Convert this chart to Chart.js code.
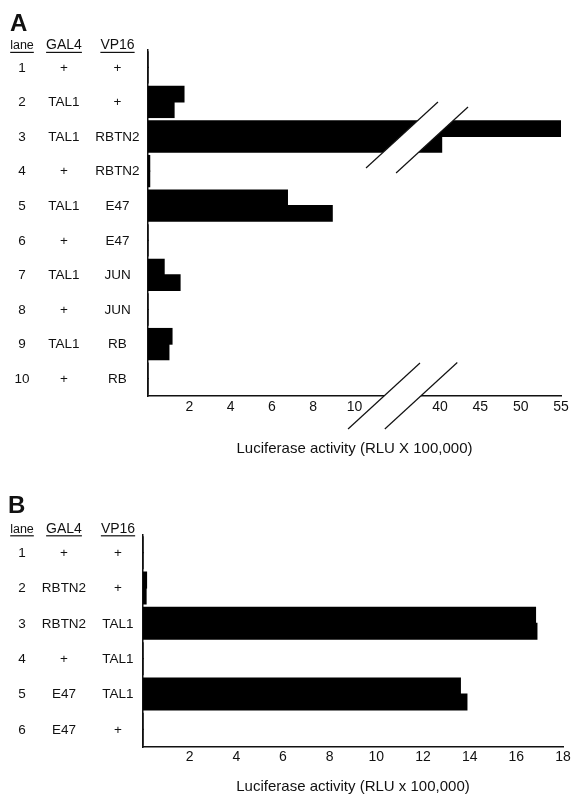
<!DOCTYPE html>
<html><head><meta charset="utf-8">
<script src="https://cdn.jsdelivr.net/npm/chart.js@4.4.1/dist/chart.umd.min.js"></script>
<style>
html,body{margin:0;padding:0;background:#fff;width:574px;height:796px;overflow:hidden}
.wrap{position:absolute;left:0;width:574px}
canvas{display:block}
</style></head><body>
<div class="wrap" style="top:0;height:478px"><canvas id="a" width="574" height="478"></canvas></div>
<div class="wrap" style="top:478px;height:318px"><canvas id="b" width="574" height="318"></canvas></div>
<script>
// ---------- Panel A data ----------
const lanesA = ['1','2','3','4','5','6','7','8','9','10'];
const gal4A  = ['+','TAL1','TAL1','+','TAL1','+','TAL1','+','TAL1','+'];
const vp16A  = ['+','+','RBTN2','RBTN2','E47','E47','JUN','JUN','RB','RB'];
const rep1A  = [0, 1.74, 55, 0.08, 6.75, 0, 0.78, 0, 1.16, 0];
const rep2A  = [0, 1.26, 40.2, 0.08, 8.92, 0, 1.55, 0, 1.01, 0];
const tickValsA = [2, 4, 6, 8, 10, 40, 45, 50, 55];
const titleA = 'Luciferase activity (RLU X 100,000)';

// ---------- Panel B data ----------
const lanesB = ['1','2','3','4','5','6'];
const gal4B  = ['+','RBTN2','RBTN2','+','E47','E47'];
const vp16B  = ['+','+','TAL1','TAL1','TAL1','+'];
const rep1B  = [0, 0.15, 16.82, 0, 13.6, 0];
const rep2B  = [0, 0.13, 16.88, 0, 13.88, 0];
const tickValsB = [2, 4, 6, 8, 10, 12, 14, 16, 18];
const titleB = 'Luciferase activity (RLU x 100,000)';

const headers = ['lane', 'GAL4', 'VP16'];

const FONT = '"Liberation Sans", Arial, Helvetica, sans-serif';
const INK = '#111';

// broken axis for panel A: 0-10 linear, then 40-55 compressed
function toDisplayA(v) { return v <= 10 ? v : 14.14 + (v - 40) * 0.3907; }

const tablePlugin = {
  id: 'table',
  afterDraw(chart, args, o) {
    const ctx = chart.ctx, y = chart.scales.y;
    ctx.save();
    ctx.fillStyle = INK;
    ctx.font = `bold 24px ${FONT}`;
    ctx.textAlign = 'left'; ctx.textBaseline = 'alphabetic';
    ctx.fillText(o.letter, o.letterX, o.letterY);
    headers.forEach((h, i) => {
      ctx.font = `${i === 0 ? 12.5 : 14}px ${FONT}`;
      ctx.textAlign = 'center';
      ctx.fillText(h, o.cols[i], o.headY);
      const w = ctx.measureText(h).width;
      ctx.fillRect(o.cols[i] - w / 2, o.headY + 2.5, w, 1.2);
    });
    ctx.font = `13.5px ${FONT}`;
    ctx.textBaseline = 'middle';
    o.rows.forEach((col, ci) => {
      col.forEach((t, ri) => ctx.fillText(t, o.cols[ci], y.getPixelForValue(ri) + 0.5));
    });
    ctx.restore();
  }
};

const breakPlugin = {
  id: 'breaks',
  afterDatasetsDraw(chart, args, o) {
    if (!o.marks) return;
    const {ctx, scales: {x, y}, chartArea} = chart;
    const k = 1.09;
    ctx.save();
    o.marks.forEach(m => {
      const yc = m.row === 'axis' ? chartArea.bottom : y.getPixelForValue(m.row);
      const x1 = x.getPixelForValue(m.v1), x2 = x.getPixelForValue(m.v2);
      const L1 = [[x1 + m.up1 * k, yc - m.up1], [x1 - m.dn1 * k, yc + m.dn1]];
      const L2 = [[x2 + m.up2 * k, yc - m.up2], [x2 - m.dn2 * k, yc + m.dn2]];
      ctx.fillStyle = '#fff';
      ctx.beginPath();
      ctx.moveTo(L1[0][0], L1[0][1]); ctx.lineTo(L2[0][0], L2[0][1]);
      ctx.lineTo(L2[1][0], L2[1][1]); ctx.lineTo(L1[1][0], L1[1][1]);
      ctx.closePath(); ctx.fill();
      ctx.strokeStyle = INK; ctx.lineWidth = 1.2;
      [L1, L2].forEach(L => {
        ctx.beginPath(); ctx.moveTo(L[0][0], L[0][1]); ctx.lineTo(L[1][0], L[1][1]); ctx.stroke();
      });
    });
    ctx.restore();
  }
};

function barSet(vals) {
  return { data: vals, backgroundColor: '#000', borderWidth: 0, inflateAmount: 0.6,
           categoryPercentage: 0.9, barPercentage: 1.0 };
}

function makeChart(id, cfg) {
  return new Chart(document.getElementById(id), {
    type: 'bar',
    data: { labels: cfg.labels, datasets: [barSet(cfg.d1), barSet(cfg.d2)] },
    options: {
      indexAxis: 'y', responsive: false, animation: false, devicePixelRatio: 1,
      layout: { padding: cfg.padding },
      plugins: {
        legend: { display: false }, tooltip: { enabled: false },
        table: cfg.table, breaks: { marks: cfg.marks }
      },
      scales: {
        x: {
          type: 'linear', min: 0, max: cfg.max,
          afterFit: s => { s.height = cfg.xh; s.paddingLeft = 0; s.paddingRight = 0; },
          afterBuildTicks: s => { s.ticks = cfg.ticks.map(v => ({ value: cfg.map(v) })); },
          ticks: { autoSkip: false, maxRotation: 0, minRotation: 0, padding: cfg.tp, color: INK,
                   font: { family: FONT, size: 14 }, callback: (v, i) => String(cfg.ticks[i]) },
          grid: { display: false, drawTicks: false },
          border: { display: true, color: INK, width: 1.5 },
          title: { display: true, text: cfg.title, color: INK,
                   font: { family: FONT, size: 15 }, padding: { top: 0, bottom: 0 } }
        },
        y: {
          ticks: { display: false },
          grid: { display: false, drawTicks: false },
          border: { display: true, color: INK, width: 1.5 },
          afterFit: s => { s.width = 0; }
        }
      }
    },
    plugins: [tablePlugin, breakPlugin]
  });
}

makeChart('a', {
  labels: lanesA, d1: rep1A.map(toDisplayA), d2: rep2A.map(toDisplayA),
  max: 20, ticks: tickValsA, map: toDisplayA, title: titleA, xh: 62, tp: 3,
  padding: { left: 148, right: 13, top: 50, bottom: 20 },
  table: { letter: 'A', letterX: 10, letterY: 31, headY: 49.3, cols: [22, 64, 117.5],
           rows: [lanesA, gal4A, vp16A] },
  marks: [
    { row: 2, v1: 12.22, v2: 13.94, up1: 34.5, dn1: 31.5, up2: 29.5, dn2: 36.5 },
    { row: 'axis', v1: 11.43, v2: 13.21, up1: 33, dn1: 33, up2: 33.5, dn2: 33 }
  ]
});

makeChart('b', {
  labels: lanesB, d1: rep1B, d2: rep2B,
  max: 18, ticks: tickValsB, map: v => v, title: titleB, xh: 49, tp: 2,
  padding: { left: 143, right: 11, top: 57, bottom: 0 },
  table: { letter: 'B', letterX: 8, letterY: 35, headY: 54.7, cols: [22, 64, 118],
           rows: [lanesB, gal4B, vp16B] },
  marks: null
});
</script>
</body></html>
